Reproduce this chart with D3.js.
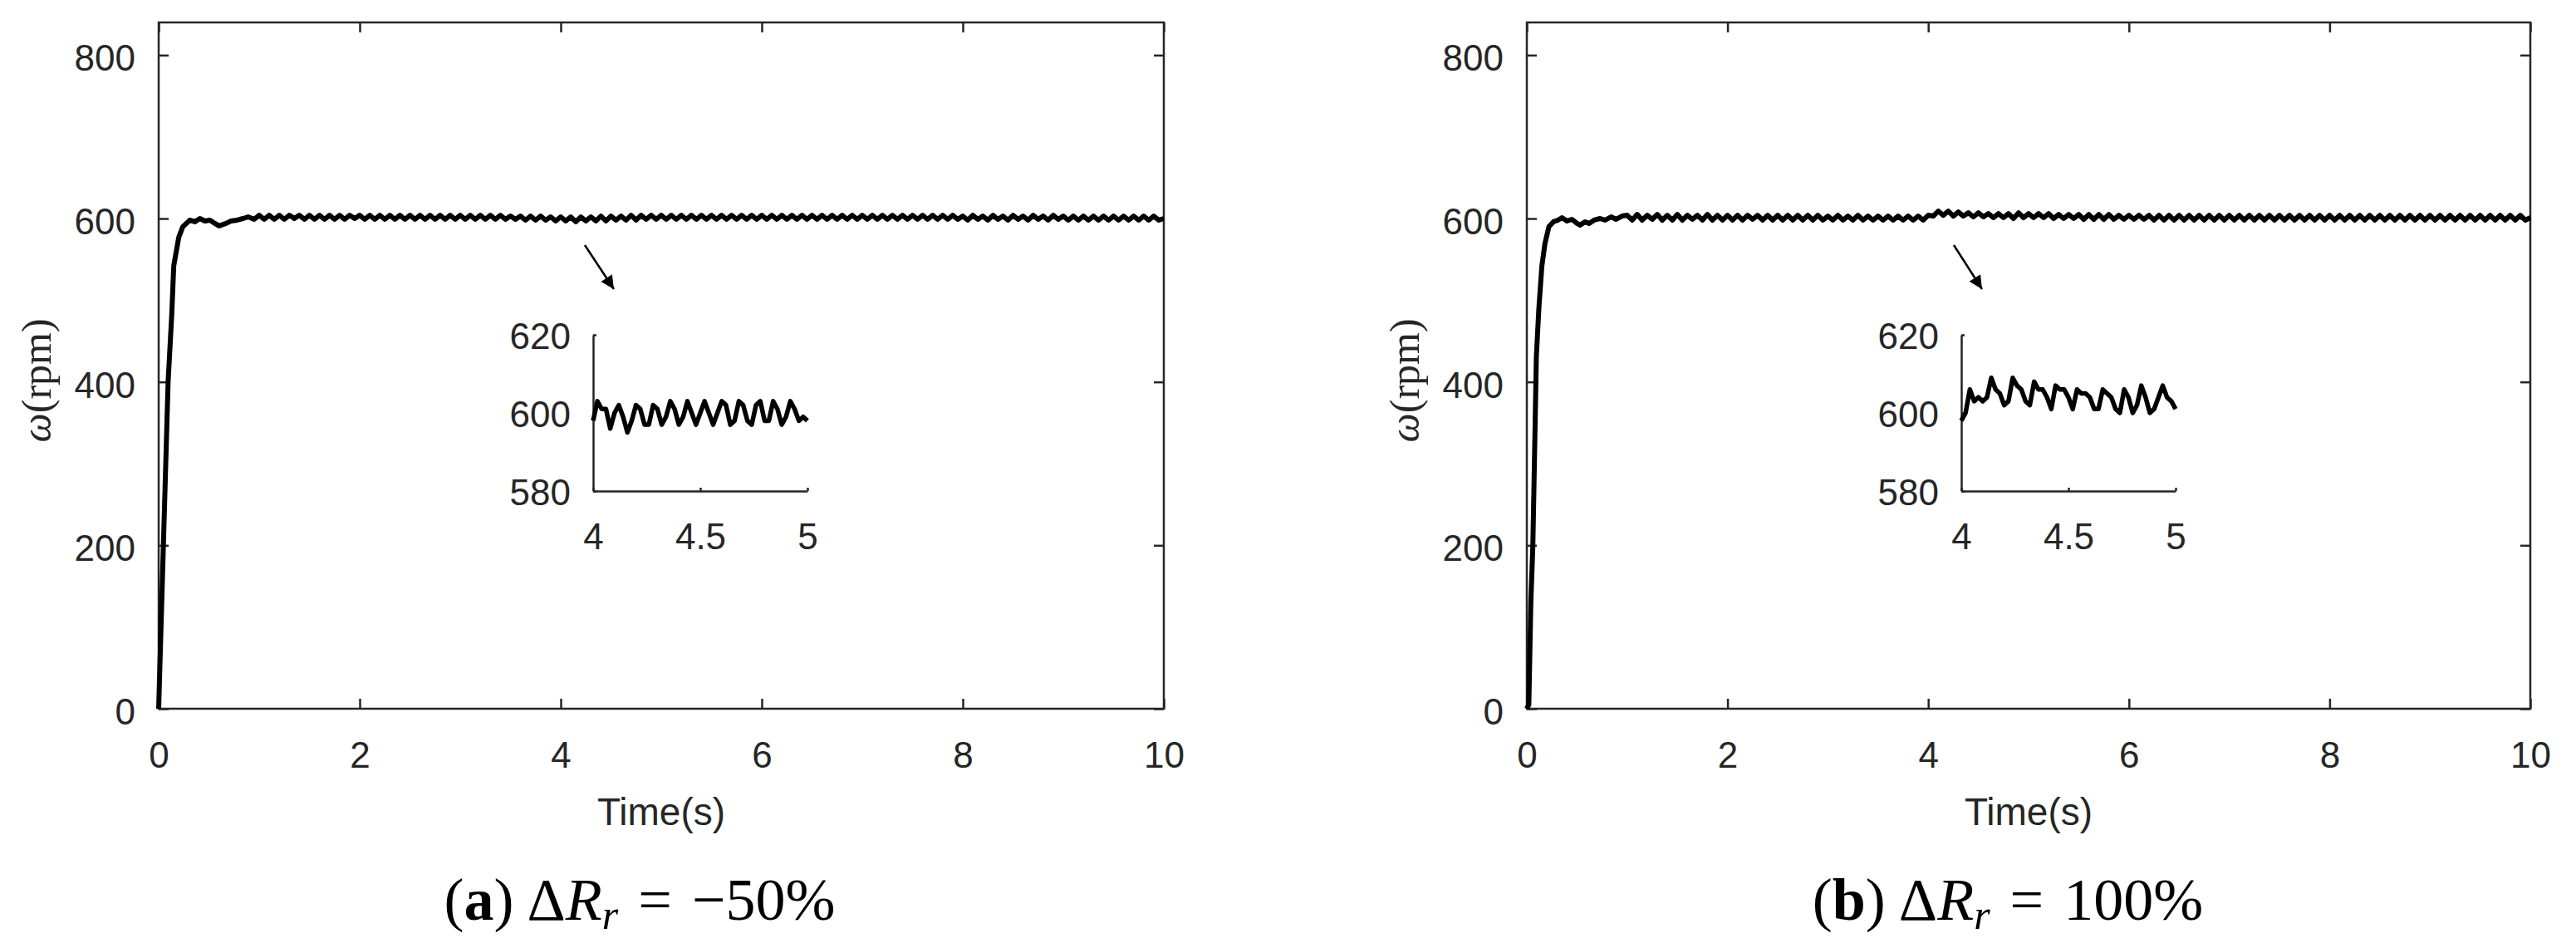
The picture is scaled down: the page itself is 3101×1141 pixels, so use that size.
<!DOCTYPE html>
<html>
<head>
<meta charset="utf-8">
<script src="https://cdn.jsdelivr.net/npm/d3@7"></script>
<style>
body { margin: 0; background: #fff; }
svg { display: block; }
.axis text { font-family: "Liberation Sans", Arial, sans-serif; fill: #262626; }
.axis line, .axis path { stroke: #262626; stroke-width: 2.5; }
</style>
</head>
<body>
<div id="vis-holder"></div>
<script>
// Axis ticks
const xTicks = [0, 2, 4, 6, 8, 10];
const yTicks = [0, 200, 400, 600, 800];
const insetXTicks = [4, 4.5, 5];
const insetYTicks = [580, 600, 620];

// Start-up transient (time in s, speed in rpm)
const riseTimeA = [0, 0.047, 0.094, 0.13, 0.15, 0.2, 0.24, 0.31, 0.36, 0.41, 0.46, 0.51, 0.56, 0.6, 0.67, 0.72, 0.78, 0.84, 0.89, 0.95];
const riseSpeedA = [0, 200, 400, 482, 542, 577, 590, 598, 596, 600, 597, 598, 594, 591, 594, 597, 598, 600, 602, 599];
const riseTimeB = [0, 0.02, 0.04, 0.06, 0.08, 0.095, 0.12, 0.15, 0.18, 0.22, 0.265, 0.31, 0.35, 0.4, 0.45, 0.5, 0.53, 0.58, 0.62, 0.67, 0.73, 0.78, 0.84, 0.89, 0.95];
const riseSpeedB = [0, 5, 130, 200, 330, 431, 490, 542, 569, 590, 596, 598, 601, 597, 599, 594, 592, 596, 594, 598, 600, 598, 602, 599, 603];

// Steady state speed, sampled every 0.05 s from 1.00 s to 10.00 s
const steadySpeedA = [
    604, 599, 604, 599, 604, 599, 604, 600, 604, 599,
    604, 599, 604, 599, 604, 599, 604, 599, 604, 600,
    604, 599, 604, 599, 604, 599, 604, 599, 604, 599,
    604, 599, 604, 599, 604, 599, 604, 599, 604, 599,
    604, 599, 604, 599, 604, 599, 604, 599, 604, 599,
    603, 599, 603, 598, 603, 598, 603, 598, 602, 597,
    602, 597, 602, 596, 602, 597, 602, 597, 603, 597,
    603, 598, 603, 598, 604, 598, 604, 599, 604, 599,
    604, 599, 604, 599, 604, 599, 604, 599, 604, 599,
    604, 599, 604, 599, 604, 599, 604, 599, 604, 599,
    604, 599, 604, 599, 604, 599, 604, 599, 604, 599,
    604, 599, 604, 599, 604, 599, 604, 599, 604, 599,
    604, 599, 604, 599, 604, 599, 604, 599, 604, 599,
    604, 599, 604, 599, 604, 599, 604, 599, 604, 599,
    603, 598, 604, 599, 603, 598, 604, 599, 603, 598,
    604, 599, 603, 598, 604, 599, 603, 598, 604, 599,
    603, 598, 603, 598, 603, 598, 603, 598, 603, 598,
    603, 598, 603, 598, 603, 598, 603, 598, 603, 598,
    600
];
const steadySpeedB = [
    604, 598, 605, 598, 604, 599, 605, 598, 604, 598,
    605, 598, 604, 599, 604, 598, 605, 598, 604, 598,
    604, 598, 604, 598, 604, 599, 604, 598, 604, 598,
    604, 598, 604, 598, 604, 598, 604, 598, 604, 598,
    603, 598, 604, 598, 603, 598, 604, 598, 603, 598,
    603, 598, 603, 598, 603, 598, 603, 598, 603, 598,
    604, 603, 609, 604, 609, 603, 608, 603, 607, 602,
    607, 602, 606, 601, 606, 601, 606, 600, 607, 601,
    606, 601, 606, 601, 606, 600, 605, 600, 605, 600,
    605, 599, 605, 599, 605, 599, 605, 599, 604, 599,
    604, 599, 604, 599, 604, 598, 604, 598, 604, 598,
    604, 598, 604, 598, 604, 598, 604, 598, 604, 598,
    604, 598, 604, 598, 604, 598, 604, 598, 604, 598,
    604, 598, 604, 598, 604, 598, 604, 598, 604, 598,
    604, 598, 604, 598, 604, 598, 604, 598, 604, 598,
    604, 598, 604, 598, 604, 598, 604, 598, 604, 598,
    604, 598, 604, 598, 604, 598, 604, 598, 604, 598,
    604, 598, 604, 598, 604, 598, 604, 598, 604, 598,
    601
];

// Zoomed window 4 s - 5 s, sampled every 0.02 s
const insetSpeedA = [
    598, 603, 601, 601, 596, 600, 602, 599, 595, 598,
    602, 601, 597, 597, 602, 601, 597, 599, 603, 601,
    597, 599, 603, 600, 597, 600, 603, 600, 597, 600,
    603, 602, 597, 598, 603, 602, 598, 597, 602, 603,
    598, 598, 603, 601, 597, 599, 603, 601, 598, 599,
    598
];
const insetSpeedB = [
    598, 600, 606, 603, 604, 603, 604, 609, 606, 605,
    602, 603, 609, 607, 606, 603, 602, 608, 606, 606,
    604, 601, 607, 606, 606, 604, 601, 606, 605, 605,
    604, 601, 601, 606, 605, 604, 601, 600, 606, 604,
    600, 602, 607, 604, 600, 601, 604, 607, 604, 603,
    601
];

const width = 3101, height = 1141;
const axisColor = "#262626";

const svg = d3.select("#vis-holder")
    .append("svg")
    .attr("width", width)
    .attr("height", height);

svg.append("defs").append("marker")
    .attr("id", "head")
    .attr("viewBox", "0 0 10 10")
    .attr("refX", 10).attr("refY", 5)
    .attr("markerUnits", "userSpaceOnUse")
    .attr("markerWidth", 22).attr("markerHeight", 16)
    .attr("orient", "auto")
    .append("path")
    .attr("d", "M0,0L10,5L0,10z")
    .attr("fill", "#000");

function series(riseT, riseV, steady) {
    let pts = riseT.map((t, i) => [t, riseV[i]]);
    steady.forEach((v, i) => pts.push([1 + i * 0.05, v]));
    return pts;
}

const panels = [
    { left: 191, right: 1401, data: series(riseTimeA, riseSpeedA, steadySpeedA), inset: insetSpeedA,
      letter: "a", value: "\u221250%", capX: 770, arrow: [704, 295, 739, 348] },
    { left: 1838, right: 3046, data: series(riseTimeB, riseSpeedB, steadySpeedB), inset: insetSpeedB,
      letter: "b", value: "100%", capX: 2417, arrow: [2352, 295, 2386, 348] }
];

const plotTop = 27, plotBottom = 853;

panels.forEach(function (p) {
    const x = d3.scaleLinear().domain([0, 10]).range([p.left, p.right]);
    const y = d3.scaleLinear().domain([0, 840]).range([plotBottom, plotTop]);
    const g = svg.append("g");

    // axes with inward ticks
    g.append("g").attr("class", "axis").attr("transform", `translate(0,${plotBottom})`)
        .call(d3.axisBottom(x).tickValues(xTicks).tickSize(-12).tickSizeOuter(0).tickPadding(40))
        .call(a => a.select(".domain").remove())
        .selectAll("text").attr("font-size", 44).attr("dy", "0.71em");
    g.append("g").attr("class", "axis").attr("transform", `translate(0,${plotTop})`)
        .call(d3.axisTop(x).tickValues(xTicks).tickSize(-12).tickSizeOuter(0).tickFormat(""))
        .call(a => a.select(".domain").remove());
    g.append("g").attr("class", "axis").attr("transform", `translate(${p.left},0)`)
        .call(d3.axisLeft(y).tickValues(yTicks).tickSize(-12).tickSizeOuter(0).tickPadding(28))
        .call(a => a.select(".domain").remove())
        .selectAll("text").attr("font-size", 44).attr("dy", "0.42em");
    g.append("g").attr("class", "axis").attr("transform", `translate(${p.right},0)`)
        .call(d3.axisRight(y).tickValues(yTicks).tickSize(-12).tickSizeOuter(0).tickFormat(""))
        .call(a => a.select(".domain").remove());

    g.append("rect")
        .attr("x", p.left).attr("y", plotTop)
        .attr("width", p.right - p.left).attr("height", plotBottom - plotTop)
        .attr("fill", "none").attr("stroke", axisColor).attr("stroke-width", 2.5);

    const line = d3.line().x(d => x(d[0])).y(d => y(d[1]));
    g.append("path")
        .datum(p.data)
        .attr("d", line)
        .attr("fill", "none")
        .attr("stroke", "#000")
        .attr("stroke-width", 6)
        .attr("stroke-linejoin", "round");

    // axis labels
    g.append("text")
        .attr("x", (p.left + p.right) / 2).attr("y", 993)
        .attr("text-anchor", "middle")
        .attr("font-family", "'Liberation Sans', Arial, sans-serif")
        .attr("font-size", 46).attr("fill", axisColor)
        .text("Time(s)");

    const yl = g.append("text")
        .attr("transform", `translate(${p.left - 130},458) rotate(-90)`)
        .attr("text-anchor", "middle")
        .attr("font-family", "'Liberation Serif', 'Times New Roman', serif")
        .attr("font-size", 50).attr("fill", axisColor);
    yl.append("tspan").attr("font-style", "italic").text("\u03c9");
    yl.append("tspan").text("(rpm)");

    // inset
    const ix = d3.scaleLinear().domain([4, 5]).range([p.left + 523, p.left + 781]);
    const iy = d3.scaleLinear().domain([580, 620]).range([591, 403]);
    const ig = g.append("g");
    ig.append("g").attr("class", "axis").attr("transform", "translate(0,591)")
        .call(d3.axisBottom(ix).tickValues(insetXTicks).tickSize(-4).tickSizeOuter(0).tickPadding(39).tickFormat(d => d))
        .selectAll("text").attr("font-size", 44).attr("dy", "0.71em");
    ig.append("g").attr("class", "axis").attr("transform", `translate(${p.left + 523},0)`)
        .call(d3.axisLeft(iy).tickValues(insetYTicks).tickSize(-4).tickSizeOuter(0).tickPadding(27))
        .selectAll("text").attr("font-size", 44).attr("dy", "0.38em");
    const insetPts = p.inset.map((v, i) => [4 + i * 0.02, v]);
    const iline = d3.line().x(d => ix(d[0])).y(d => iy(d[1]));
    ig.append("path")
        .datum(insetPts)
        .attr("d", iline)
        .attr("fill", "none")
        .attr("stroke", "#000")
        .attr("stroke-width", 5.5)
        .attr("stroke-linejoin", "round");

    // arrow pointing to the inset
    g.append("line")
        .attr("x1", p.arrow[0]).attr("y1", p.arrow[1])
        .attr("x2", p.arrow[2]).attr("y2", p.arrow[3])
        .attr("stroke", "#000").attr("stroke-width", 2.5)
        .attr("marker-end", "url(#head)");

    // caption
    const cap = g.append("text")
        .attr("x", p.capX).attr("y", 1107)
        .attr("text-anchor", "middle")
        .attr("font-family", "'Liberation Serif', 'Times New Roman', serif")
        .attr("font-size", 72).attr("fill", "#000");
    cap.append("tspan").text("(");
    cap.append("tspan").attr("font-weight", "bold").text(p.letter);
    cap.append("tspan").text(")");
    cap.append("tspan").attr("dx", 16).text("\u0394");
    cap.append("tspan").attr("font-style", "italic").text("R");
    cap.append("tspan").attr("font-style", "italic").attr("font-size", 50).attr("dy", 11).text("r");
    cap.append("tspan").attr("dy", -11).attr("dx", 24).text("=");
    cap.append("tspan").attr("dx", 24).text(p.value);
});
</script>
</body>
</html>
